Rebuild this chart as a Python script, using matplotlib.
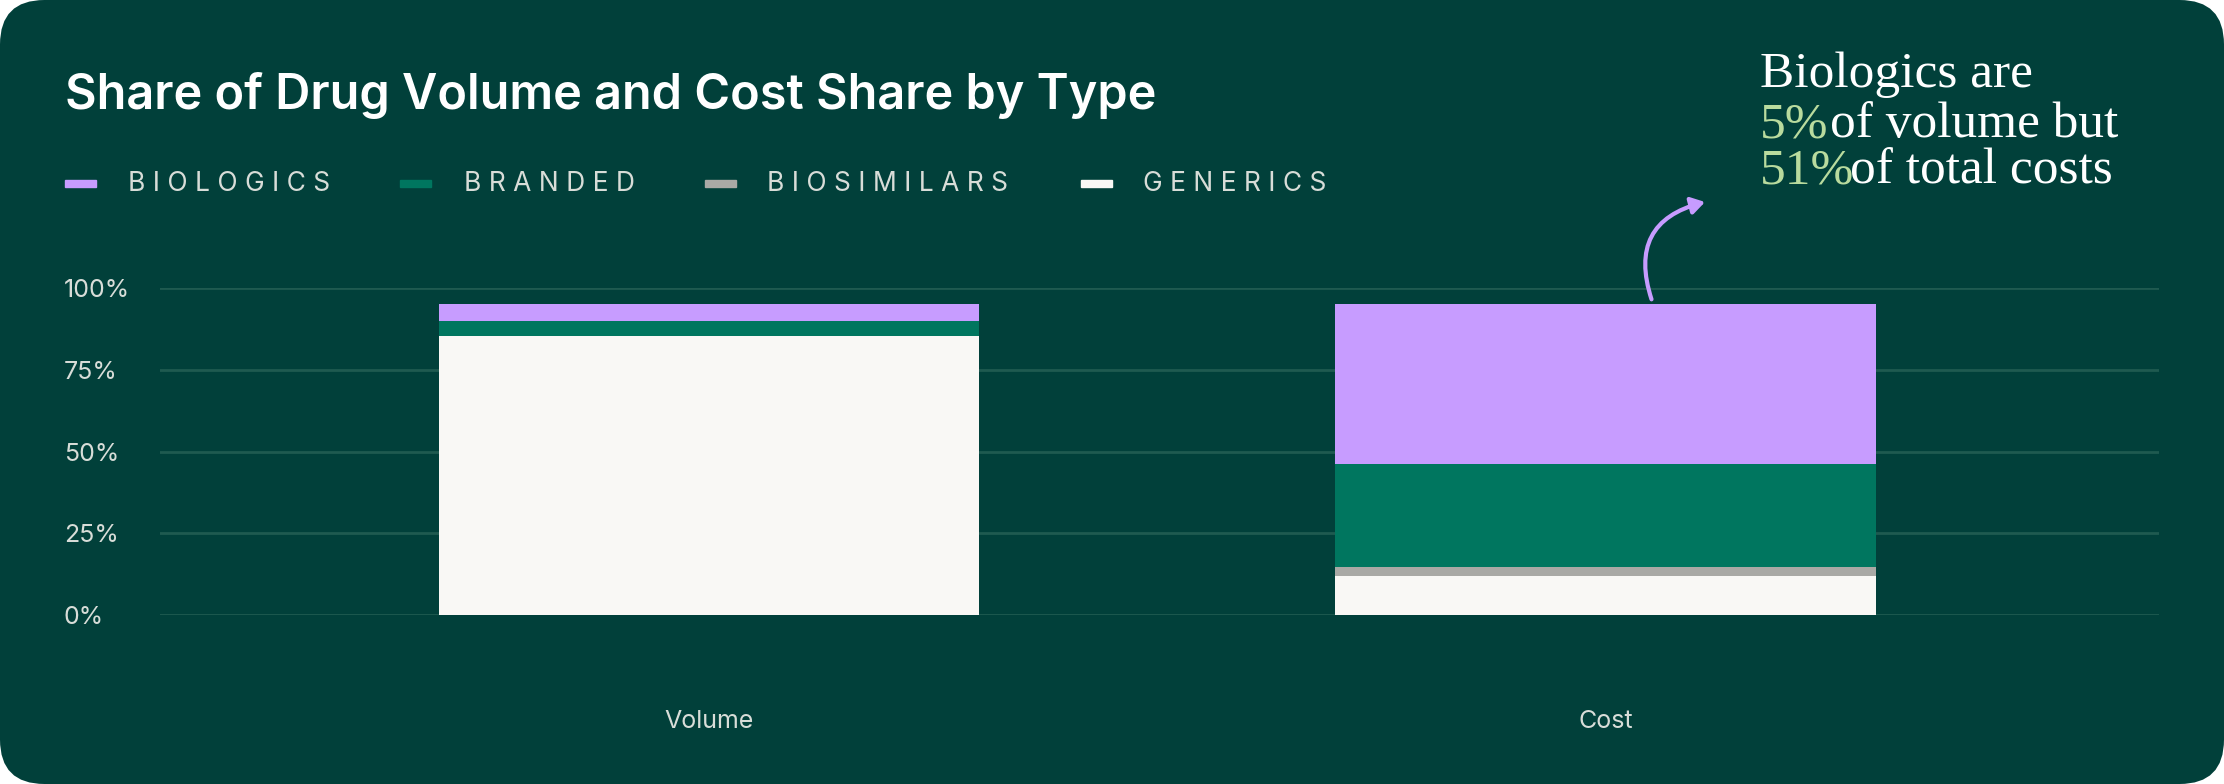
import matplotlib.pyplot as plt
from matplotlib.patches import FancyBboxPatch, FancyArrowPatch

categories = ["Volume", "Cost"]
series_names = ["Generics", "Biosimilars", "Branded", "Biologics"]
generics = [85.3, 12.1]
biosimilars = [0.0, 2.6]
branded = [4.7, 31.6]
biologics = [5.2, 48.9]
yticks = [0, 25, 50, 75, 100]
ytick_labels = ["0%", "25%", "50%", "75%", "100%"]

BG = "#01403A"
colors = {"Biologics": "#C79CFF", "Branded": "#00765F", "Biosimilars": "#A9A9A5", "Generics": "#F9F8F5"}
W, H = 1568, 553

fig = plt.figure(figsize=(22.24, 7.84), dpi=100)
fig.patch.set_facecolor("white")
bgp = FancyBboxPatch((0, 0), 1, 1, boxstyle="round,pad=0,rounding_size=0.02",
                     transform=fig.transFigure, facecolor=BG, edgecolor="none",
                     mutation_aspect=W / H, zorder=-10)
fig.patches.append(bgp)

ax = fig.add_axes([113 / W, 1 - 434 / H, (1522 - 113) / W, (434 - 203) / H])
ax.set_facecolor("none")
x = [0, 1]
bottom = [0, 0]
vals = {"Generics": generics, "Biosimilars": biosimilars, "Branded": branded, "Biologics": biologics}
for name in series_names:
    ax.bar(x, vals[name], bottom=bottom, width=0.603, color=colors[name], zorder=3)
    bottom = [b + v for b, v in zip(bottom, vals[name])]
ax.set_xlim(-0.612, 1.617)
ax.set_ylim(0, 100)
ax.set_yticks(yticks)
ax.set_yticklabels(ytick_labels, family="Inter", fontsize=18, color="#D8DDD8")
ax.set_xticks(x)
ax.set_xticklabels(categories, family="Inter", fontsize=18, color="#D8DDD8")
ax.tick_params(length=0)
ax.tick_params(axis="x", pad=68)
ax.tick_params(axis="y", pad=0)
for lab in ax.get_yticklabels():
    lab.set_horizontalalignment("left")
ax.yaxis.set_tick_params(pad=(113 - 45) * 1.418 * 0.72)
ax.grid(axis="y", color="#1F5A50", linewidth=2, zorder=0)
for s in ax.spines.values():
    s.set_visible(False)

fig.text(46 / W, 1 - 67 / H, "Share of Drug Volume and Cost Share by Type", family="Inter",
         fontsize=35, fontweight="semibold", color="white", va="center")

legend_items = [("BIOLOGICS", 46, 90), ("BRANDED", 282, 327), ("BIOSIMILARS", 497, 541), ("GENERICS", 762, 806)]
for name, mx, tx in legend_items:
    fig.patches.append(plt.Rectangle((mx / W, 1 - 132 / H), 22 / W, 5 / H, transform=fig.transFigure,
                                     color=colors[name.capitalize()]))
    fig.text(tx / W, 1 - 130 / H, " ".join(name), family="Inter", fontsize=19,
             color="#D8DDD8", va="center")

fs = 37
serif = "Liberation Serif"
fig.text(1241 / W, 1 - 53 / H, "Biologics are", family=serif, fontsize=fs, color="white", va="center")
fig.text(1241 / W, 1 - 88 / H, "5%", family=serif, fontsize=fs, color="#B9DB9E", va="center")
fig.text(1290 / W, 1 - 88 / H, "of volume but", family=serif, fontsize=fs, color="white", va="center")
fig.text(1241 / W, 1 - 121 / H, "51%", family=serif, fontsize=fs, color="#B9DB9E", va="center")
fig.text(1304 / W, 1 - 121 / H, "of total costs", family=serif, fontsize=fs, color="white", va="center")

arrow = FancyArrowPatch((1165 / W, 1 - 213 / H), (1204 / W, 1 - 142 / H), transform=fig.transFigure,
                        connectionstyle="arc3,rad=-0.55", arrowstyle="-|>,head_length=8,head_width=5",
                        color="#C79CFF", linewidth=3)
fig.patches.append(arrow)

fig.savefig("out.png", dpi=100, facecolor=fig.get_facecolor())
